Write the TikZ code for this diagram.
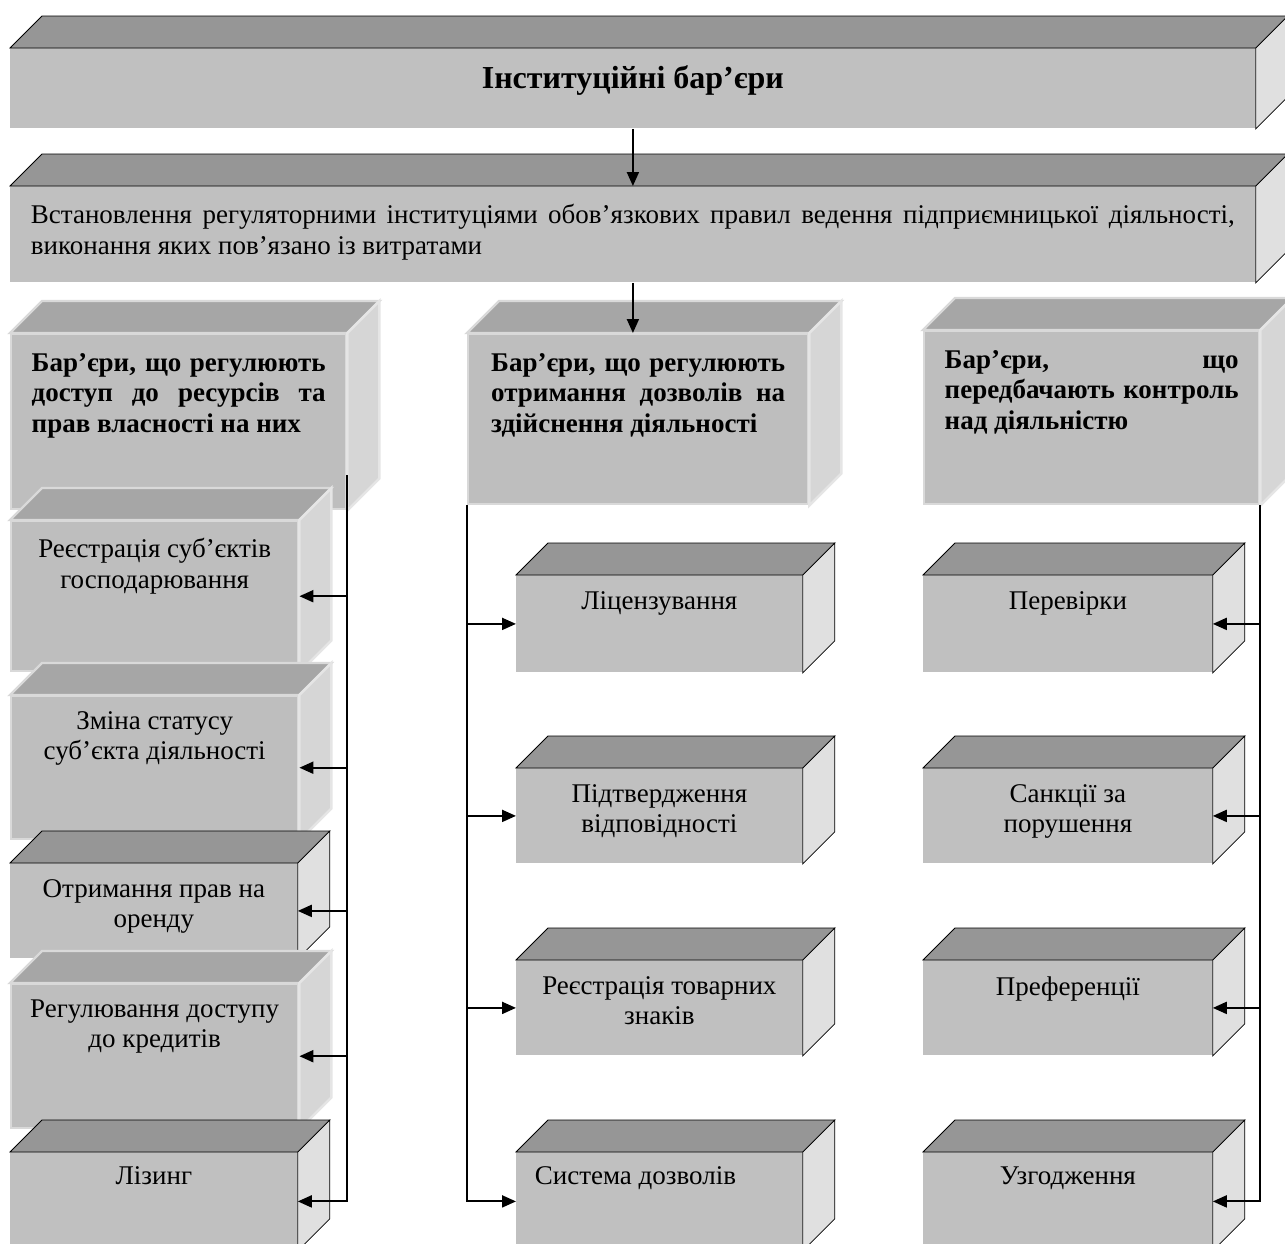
\documentclass[tikz,border=0pt]{standalone}
\usepackage{fontspec}
\setmainfont{Liberation Serif}
\usetikzlibrary{positioning,arrows.meta}

\definecolor{facegray}{RGB}{192,192,192}
\definecolor{topgray}{RGB}{150,150,150}
\definecolor{sidegray}{RGB}{224,224,224}
\definecolor{glassgray}{RGB}{190,190,190}
\definecolor{glasstop}{RGB}{166,166,166}
\definecolor{glassside}{RGB}{214,214,214}

\hyphenpenalty=10000
\exhyphenpenalty=10000

\tikzset{
  plain front/.style={fill=facegray, inner sep=0pt, anchor=north west},
  plain top/.style={fill=topgray},
  plain side/.style={fill=sidegray},
  glass front/.style={fill=glassgray, draw=white!70!gray, line width=1.2pt, inner sep=0pt, anchor=north west},
  glass top/.style={fill=glasstop, draw=white!70!gray, line width=1.2pt},
  glass side/.style={fill=glassside, draw=white!80!gray, line width=1.2pt},
  txt/.style={inner sep=0pt, align=center, font=\fontsize{13.5}{15.3}\selectfont},
  bold txt/.style={txt, font=\fontsize{16}{18}\selectfont\bfseries},
  just txt/.style={inner sep=0pt, align=justify, text width=#1,
    font=\fontsize{13.5}{15.3}\selectfont},
  head txt/.style={just txt=#1, font=\fontsize{13.5}{15.3}\selectfont\bfseries},
  arr/.style={line width=1pt, -{Triangle[length=7pt,width=6pt]}},
}

% box with top and right faces: [style]{name}{x}{y}{width}{height}
\newcommand{\kub}[6][plain]{%
  \node[#1 front, minimum width=#5*0.5pt, minimum height=#6*0.5pt] (#2) at (#3,#4) {};
  \filldraw[#1 top] (#2.north west) -- ++(32,-32) -- ([shift={(32,-32)}]#2.north east) -- (#2.north east) -- cycle;
  \filldraw[#1 side] (#2.north east) -- ++(32,-32) -- ([shift={(32,-32)}]#2.south east) -- (#2.south east) -- cycle;
}

\begin{document}
\begin{tikzpicture}[x=0.5pt,y=-0.5pt]
\useasboundingbox (0,0) rectangle (1285,1243);
%%% top levels
\kub{title}{10}{48}{1245}{80}
\node[bold txt] (title-t) at ([yshift=4pt]title.center) {Інституційні бар’єри};
\kub{inst}{10}{186}{1245}{96}
\node[just txt=602pt, below=9pt of inst.north] (inst-t) {Встановлення регуляторними інституціями обов’язкових правил ведення підприємницької діяльності,\linebreak виконання яких пов’язано із витратами};
%
%%% three groups of barriers
\kub[glass]{res}{10}{333}{335}{175}
\node[head txt=147pt, below=10pt of res.north] (res-t)
  {Бар’єри, що регулюють\linebreak доступ до ресурсів та\linebreak прав власності на них};
\kub[glass]{perm}{467}{333}{340}{170}
\node[head txt=147pt, below=10pt of perm.north] (perm-t)
  {Бар’єри, що регулюють\linebreak отримання дозволів на\linebreak здійснення діяльності};
\kub[glass]{ctrl}{923}{330}{335}{173}
\node[head txt=147pt, below=10pt of ctrl.north] (ctrl-t)
  {Бар’єри, що\linebreak передбачають контроль\linebreak над діяльністю};
%
%%% left column
\kub[glass]{reg}{10}{520}{287}{150}
\node[txt, below=9pt of reg.north] (reg-t) {Реєстрація суб’єктів\\господарювання};
\kub[glass]{zmina}{10}{695}{287}{143}
\node[txt, below=8pt of zmina.north] (zmina-t) {Зміна статусу\\суб’єкта діяльності};
\kub{orenda}{10}{863}{287}{95}
\node[txt, below=8pt of orenda.north] (orenda-t) {Отримання прав на\\оренду};
\kub[glass]{kredyt}{10}{983}{287}{144}
\node[txt, below=8pt of kredyt.north] (kredyt-t) {Регулювання доступу\\до кредитів};
\kub{liz}{10}{1152}{287}{98}
\node[txt, below=7pt of liz.north] (liz-t) {Лізинг};
%
%%% middle column
\kub{lic}{516}{575}{286}{97}
\node[txt, below=8pt of lic.north] (lic-t) {Ліцензування};
\kub{vidp}{516}{768}{286}{95}
\node[txt, below=8pt of vidp.north] (vidp-t) {Підтвердження\\відповідності};
\kub{znak}{516}{960}{286}{95}
\node[txt, below=8pt of znak.north] (znak-t) {Реєстрація товарних\\знаків};
\kub{dozvil}{516}{1152}{286}{98}
\node[txt, below=7pt of dozvil.north, xshift=-12pt] (dozvil-t) {Система дозволів};
%
%%% right column
\kub{perev}{923}{575}{289}{97}
\node[txt, below=8pt of perev.north] (perev-t) {Перевірки};
\kub{sank}{923}{768}{289}{95}
\node[txt, below=8pt of sank.north] (sank-t) {Санкції за\\порушення};
\kub{pref}{923}{960}{289}{95}
\node[txt, below=8pt of pref.north] (pref-t) {Преференції};
\kub{uzgo}{923}{1152}{289}{98}
\node[txt, below=7pt of uzgo.north] (uzgo-t) {Узгодження};
%
%%% connectors
\draw[arr] (title.south) -- (inst.north);
\draw[arr] (inst.south) -- (inst.south |- perm.north);
\coordinate (lbus) at (347,475);
\draw[arr] (lbus) |- (liz.east);
\foreach \b in {reg,zmina,orenda,kredyt}
  \draw[arr] (lbus |- \b.east) -- (\b.east);
\draw[arr] (perm.south west) |- (dozvil.west);
\foreach \b in {lic,vidp,znak}
  \draw[arr] (perm.south west |- \b.west) -- (\b.west);
\draw[arr] (ctrl.south east) |- (uzgo.east);
\foreach \b in {perev,sank,pref}
  \draw[arr] (ctrl.south east |- \b.east) -- (\b.east);
\end{tikzpicture}
\end{document}
